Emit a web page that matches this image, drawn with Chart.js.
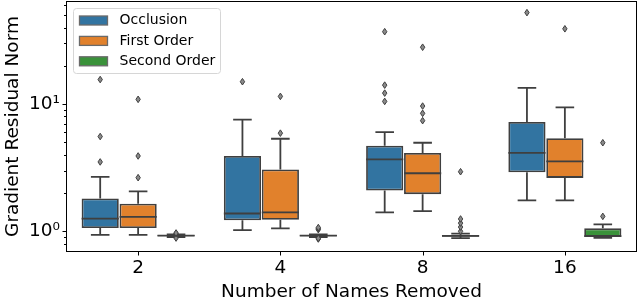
<!DOCTYPE html>
<html><head><meta charset="utf-8">
<script src="https://cdn.jsdelivr.net/npm/chart.js@4"></script>
<style>html,body{margin:0;padding:0;background:#fff}#wrap{width:640px;height:298px;position:relative}</style>
</head><body><div id="wrap"><canvas id="c"></canvas></div>
<script>
// ---------- DATA ----------
const categories = ['2', '4', '8', '16'];
const seriesNames = ['Occlusion', 'First Order', 'Second Order'];
const seriesColors = ['#3274a1', '#e1812c', '#3a923a'];

// Occlusion
const occlusionWhiskerLow  = [0.936, 1.02, 1.41, 1.75];
const occlusionQ1          = [1.06, 1.22, 2.09, 2.91];
const occlusionMedian      = [1.26, 1.38, 3.68, 4.13];
const occlusionQ3          = [1.81, 3.91, 4.71, 7.24];
const occlusionWhiskerHigh = [2.68, 7.55, 6.02, 13.4];
const occlusionOutliers    = [[3.51, 5.56, 15.6], [15.0], [10.5, 12.2, 14.1, 37.1], [52.4]];

// First Order
const firstWhiskerLow  = [0.936, 1.055, 1.44, 1.75];
const firstQ1          = [1.06, 1.23, 1.96, 2.63];
const firstMedian      = [1.30, 1.41, 2.86, 3.55];
const firstQ3          = [1.65, 3.06, 4.13, 5.40];
const firstWhiskerHigh = [2.06, 5.34, 4.97, 9.43];
const firstOutliers    = [[2.64, 3.91, 10.9], [5.91, 11.5], [7.41, 8.46, 9.65, 28.0], [39.1]];

// Second Order
const secondWhiskerLow  = [0.90, 0.90, 0.885, 0.89];
const secondQ1          = [0.913, 0.913, 0.905, 0.905];
const secondMedian      = [0.924, 0.924, 0.92, 0.915];
const secondQ3          = [0.935, 0.935, 0.935, 1.055];
const secondWhiskerHigh = [0.945, 0.945, 0.96, 1.134];
const secondOutliers    = [[0.885, 0.96, 0.97], [0.87, 0.88, 1.03, 1.05, 1.07], [1.0, 1.08, 1.16, 1.25, 2.94], [1.31, 4.97]];

// Axis ticks
const yTickValues = [0.8, 0.9, 1, 2, 3, 4, 5, 6, 7, 8, 9, 10, 20, 30, 40, 50, 60];
const yMajorTicks = [1, 10];
const yMajorLabels = ['10\u2070', '10\u00b9'];
const yMin = 0.732, yMax = 63.5;

const xTitle = 'Number of Names Removed';
const yTitle = 'Gradient Residual Norm';

// ---------- BUILD ----------
const LINE = '#3f3f3f';
const FONT = '"DejaVu Sans", sans-serif';

const stats = [
  {lo: occlusionWhiskerLow, q1: occlusionQ1, med: occlusionMedian, q3: occlusionQ3, hi: occlusionWhiskerHigh, out: occlusionOutliers},
  {lo: firstWhiskerLow, q1: firstQ1, med: firstMedian, q3: firstQ3, hi: firstWhiskerHigh, out: firstOutliers},
  {lo: secondWhiskerLow, q1: secondQ1, med: secondMedian, q3: secondQ3, hi: secondWhiskerHigh, out: secondOutliers}
];

const datasets = seriesNames.map((name, i) => ({
  label: name,
  data: stats[i].q1.map((q, j) => [q, stats[i].q3[j]]),
  backgroundColor: seriesColors[i],
  borderColor: LINE,
  borderWidth: 1.8,
  borderSkipped: false,
  categoryPercentage: 0.8,
  barPercentage: 0.98
}));

const boxPlugin = {
  id: 'boxParts',
  afterDatasetsDraw(chart) {
    const ctx = chart.ctx;
    const y = chart.scales.y;
    ctx.save();
    ctx.strokeStyle = LINE;
    ctx.lineWidth = 1.8;
    datasets.forEach((ds, i) => {
      const meta = chart.getDatasetMeta(i);
      const s = stats[i];
      meta.data.forEach((bar, j) => {
        const cx = bar.x, w = bar.width;
        const pLo = y.getPixelForValue(s.lo[j]);
        const pQ1 = y.getPixelForValue(s.q1[j]);
        const pMed = y.getPixelForValue(s.med[j]);
        const pQ3 = y.getPixelForValue(s.q3[j]);
        const pHi = y.getPixelForValue(s.hi[j]);
        ctx.beginPath();
        ctx.moveTo(cx, pQ3); ctx.lineTo(cx, pHi);
        ctx.moveTo(cx - w / 4, pHi); ctx.lineTo(cx + w / 4, pHi);
        ctx.moveTo(cx, pQ1); ctx.lineTo(cx, pLo);
        ctx.moveTo(cx - w / 4, pLo); ctx.lineTo(cx + w / 4, pLo);
        ctx.moveTo(cx - w / 2, pMed); ctx.lineTo(cx + w / 2, pMed);
        ctx.stroke();
        s.out[j].forEach(v => {
          const py = y.getPixelForValue(v);
          ctx.beginPath();
          ctx.moveTo(cx, py - 3.3); ctx.lineTo(cx + 2.2, py);
          ctx.lineTo(cx, py + 3.3); ctx.lineTo(cx - 2.2, py);
          ctx.closePath();
          ctx.fillStyle = '#8a8a8a';
          ctx.fill();
          ctx.lineWidth = 1;
          ctx.stroke();
          ctx.lineWidth = 1.8;
        });
      });
    });
    ctx.restore();
  },
  afterDraw(chart) {
    const ctx = chart.ctx;
    const a = chart.chartArea;
    const x = chart.scales.x, y = chart.scales.y;
    ctx.save();
    // spines
    ctx.strokeStyle = '#000';
    ctx.lineWidth = 1;
    ctx.strokeRect(a.left - 0.5, a.top - 0.5, a.right - a.left + 1, a.bottom - a.top + 1);
    // y ticks
    ctx.beginPath();
    yTickValues.forEach(v => {
      const py = Math.round(y.getPixelForValue(v)) + 0.5;
      const len = yMajorTicks.includes(v) ? 4 : 2.5;
      ctx.moveTo(a.left - 0.5 - len, py); ctx.lineTo(a.left - 0.5, py);
    });
    // x ticks
    categories.forEach((c, i) => {
      const px = Math.round(x.getPixelForValue(i)) + 0.5;
      ctx.moveTo(px, a.bottom + 0.5); ctx.lineTo(px, a.bottom + 4.5);
    });
    ctx.stroke();
    // legend
    const lx = a.left + 6.5, ly = a.top + 6.5, lw = 147, lh = 65, r = 3;
    ctx.beginPath();
    ctx.moveTo(lx + r, ly); ctx.lineTo(lx + lw - r, ly); ctx.arcTo(lx + lw, ly, lx + lw, ly + r, r);
    ctx.lineTo(lx + lw, ly + lh - r); ctx.arcTo(lx + lw, ly + lh, lx + lw - r, ly + lh, r);
    ctx.lineTo(lx + r, ly + lh); ctx.arcTo(lx, ly + lh, lx, ly + lh - r, r);
    ctx.lineTo(lx, ly + r); ctx.arcTo(lx, ly, lx + r, ly, r);
    ctx.closePath();
    ctx.fillStyle = 'rgba(255,255,255,0.85)';
    ctx.fill();
    ctx.strokeStyle = '#d6d6d6';
    ctx.stroke();
    ctx.font = '14px ' + FONT;
    ctx.textBaseline = 'middle';
    ctx.textAlign = 'left';
    seriesNames.forEach((name, i) => {
      const rowY = ly + 12 + i * 20.4;
      ctx.fillStyle = seriesColors[i];
      ctx.fillRect(lx + 6, rowY - 4.5, 28, 9);
      ctx.strokeStyle = '#6a6a6a';
      ctx.lineWidth = 1.3;
      ctx.strokeRect(lx + 6, rowY - 4.5, 28, 9);
      ctx.fillStyle = '#000';
      ctx.fillText(name, lx + 46, rowY);
    });
    ctx.restore();
  }
};

new Chart(document.getElementById('c'), {
  type: 'bar',
  data: {labels: categories, datasets},
  options: {
    responsive: true,
    maintainAspectRatio: false,
    animation: false,
    layout: {padding: {left: 0, right: 4, top: 2, bottom: 0}},
    plugins: {legend: {display: false}, tooltip: {enabled: false}},
    scales: {
      x: {
        type: 'category',
        offset: true,
        grid: {display: false, drawTicks: false},
        border: {display: false},
        ticks: {font: {family: FONT, size: 18.5}, color: '#000', padding: 6, maxRotation: 0},
        title: {display: true, text: xTitle, color: '#000', font: {family: FONT, size: 18.5, lineHeight: 1}, padding: {top: 0, bottom: -3}},
        afterFit: s => { s.height = 47; s.paddingLeft = 0; s.paddingRight = 0; }
      },
      y: {
        type: 'logarithmic',
        min: yMin,
        max: yMax,
        grid: {display: false, drawTicks: false},
        border: {display: false},
        afterBuildTicks: s => { s.ticks = yTickValues.map(v => ({value: v})); },
        ticks: {
          autoSkip: false,
          font: {family: FONT, size: 18.5},
          color: '#000',
          padding: 7,
          callback: v => { const k = yMajorTicks.indexOf(v); return k >= 0 ? yMajorLabels[k] : ''; }
        },
        title: {display: true, text: yTitle, color: '#000', font: {family: FONT, size: 18.5, lineHeight: 1}, padding: {top: 4, bottom: 0}},
        afterFit: s => { s.width = 67; s.paddingTop = 0; s.paddingBottom = 0; }
      }
    }
  },
  plugins: [boxPlugin]
});
</script>
</body></html>
